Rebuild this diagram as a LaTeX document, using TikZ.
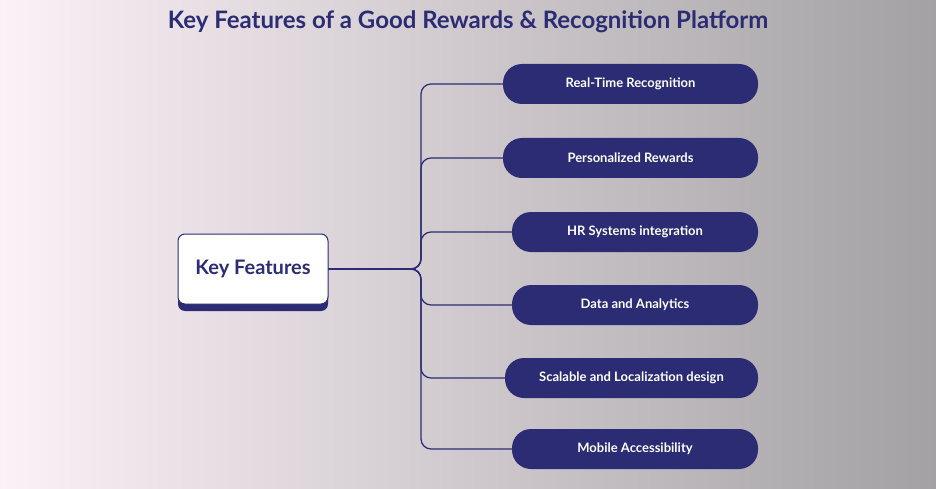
\documentclass[tikz,border=0pt]{standalone}
\usepackage{fontspec}
\setmainfont{Lato}
\usetikzlibrary{positioning}
\definecolor{navy}{HTML}{2B2C73}
\definecolor{bgleft}{HTML}{FBF1F7}
\definecolor{bgright}{HTML}{A3A1A3}
\tikzset{
    feature/.style={fill=navy, text=white, rounded corners=19pt, minimum height=40pt,
        font=\fontsize{13}{15}\selectfont\bfseries, inner xsep=8pt},
    branch/.style={draw=navy, line width=1.2pt, rounded corners=10pt},
}
\begin{document}
\begin{tikzpicture}[x=1pt,y=-1pt]
    \shade[left color=bgleft, right color=bgright] (0,0) rectangle (936,489);
    \useasboundingbox (0,0) rectangle (936,489);
    \node[text=navy, font=\fontsize{24}{28}\selectfont\bfseries] (title) at (468,22)
        {Key Features of a Good Rewards \& Recognition Platform};
    % hub box
    \fill[navy, rounded corners=7pt] (178,241) rectangle (328,311);
    \node[draw=navy, line width=1pt, fill=white, rounded corners=7pt, minimum width=150pt,
        minimum height=70pt, text=navy, font=\fontsize{20}{24}\selectfont\bfseries]
        (hub) at (253,269) {Key Features};
    % feature pills
    \node[feature, minimum width=255pt] (f1) at (630.5,84) {Real-Time Recognition};
    \node[feature, minimum width=255pt] (f2) at (630.5,158) {Personalized Rewards};
    \node[feature, minimum width=246pt] (f3) at (635,232) {HR Systems integration};
    \node[feature, minimum width=246pt] (f4) at (635,305) {Data and Analytics};
    \node[feature, minimum width=253pt] (f5) at (631.5,378) {Scalable and Localization design};
    \node[feature, minimum width=246pt] (f6) at (635,449) {Mobile Accessibility};
    \coordinate (fork) at (421,269);
    \foreach \f in {f1,f2,f3,f4,f5,f6}
        \draw[branch] (hub.east) -- (fork) |- (\f.west);
\end{tikzpicture}
\end{document}
